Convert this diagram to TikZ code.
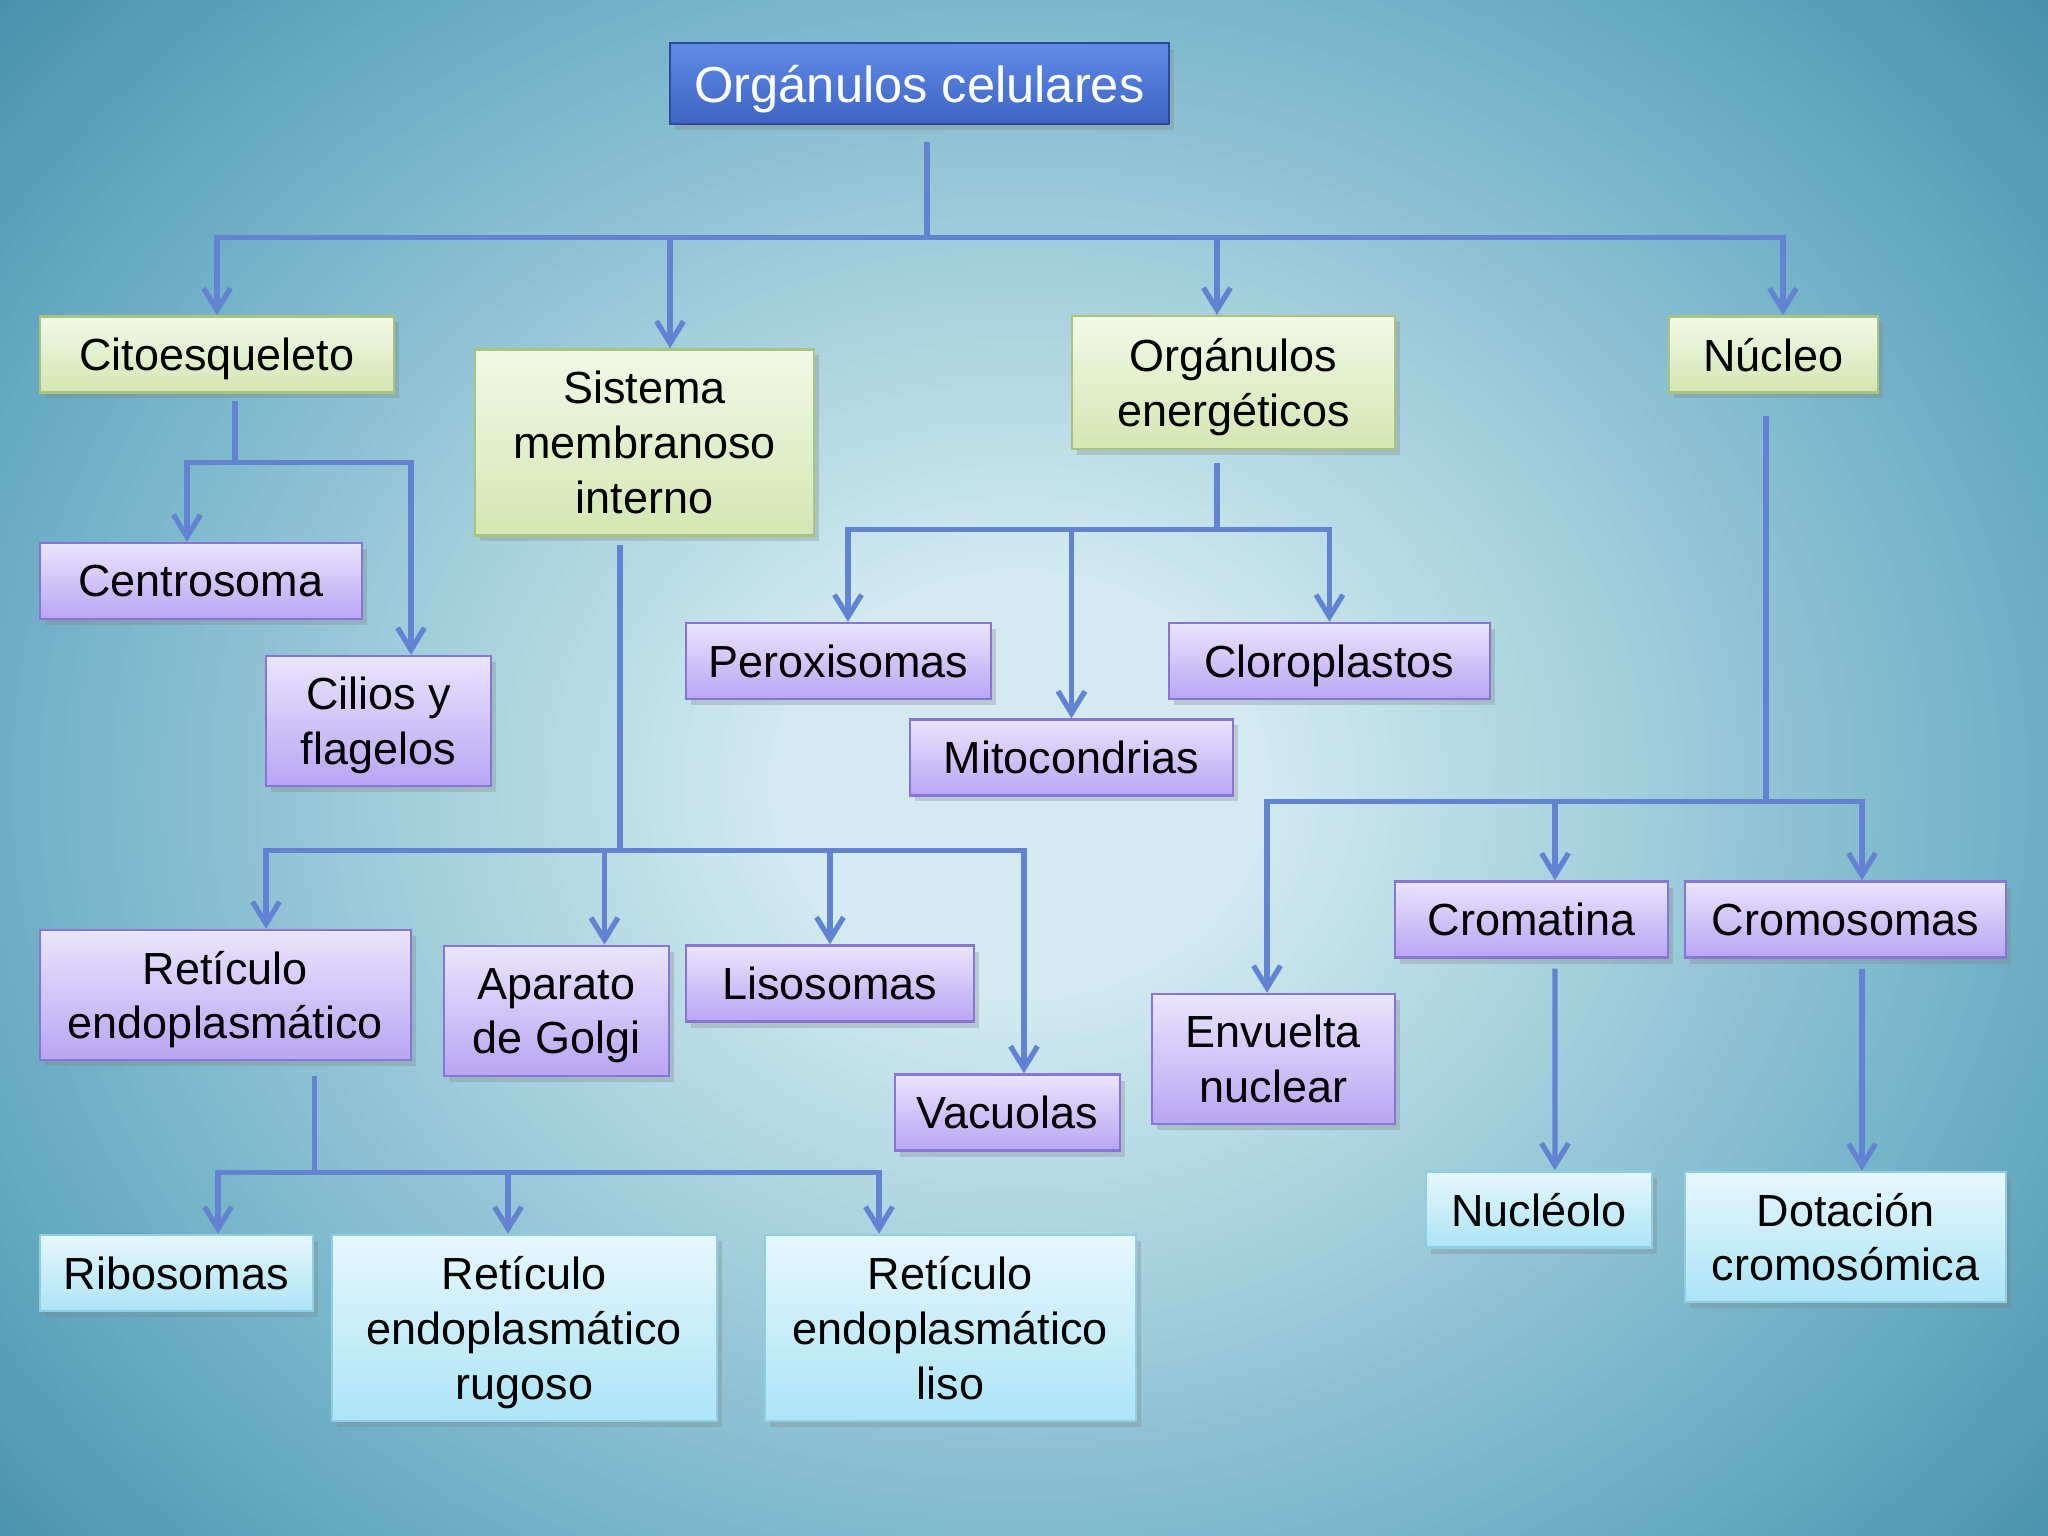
\documentclass[tikz,border=0pt]{standalone}
\usepackage{fontspec}
\setmainfont{Liberation Sans}
\usetikzlibrary{arrows.meta,shadows}
\usepackage{xcolor}
\definecolor{bgin}{HTML}{D2EAF0}
\definecolor{bgmid}{HTML}{74B3C8}
\definecolor{bgout}{HTML}{4690AC}
\definecolor{wirec}{HTML}{6282D2}
\definecolor{titletop}{HTML}{5F8BE6}
\definecolor{titlebot}{HTML}{3E64C4}
\definecolor{titleline}{HTML}{2C4A96}
\definecolor{greentop}{HTML}{F2F8E6}
\definecolor{greenbot}{HTML}{D4E6B3}
\definecolor{greenline}{HTML}{A9C27E}
\definecolor{violettop}{HTML}{EAE5FC}
\definecolor{violetbot}{HTML}{B8A5F4}
\definecolor{violetline}{HTML}{8874D4}
\definecolor{cyantop}{HTML}{E6F7FD}
\definecolor{cyanbot}{HTML}{ACE4F6}
\definecolor{cyanline}{HTML}{8FCDE4}

\begin{document}
\begin{tikzpicture}[
      font=\fontsize{12.8}{15.6}\selectfont,
      box/.style={inner sep=0pt,align=center,line width=0.7pt,text depth=0pt,
                  drop shadow={shadow xshift=0.5mm,shadow yshift=-0.6mm,opacity=0.3}},
      tbox/.style={box,top color=titletop,bottom color=titlebot,draw=titleline,text=white,
                   font=\fontsize{14.4}{17}\selectfont},
      gbox/.style={box,top color=greentop,bottom color=greenbot,draw=greenline},
      vbox/.style={box,top color=violettop,bottom color=violetbot,draw=violetline},
      cbox/.style={box,top color=cyantop,bottom color=cyanbot,draw=cyanline},
      h1/.style={minimum height=7.6mm},
      h2/.style={minimum height=13mm},
      h3/.style={minimum height=18.6mm},
      link/.style={line width=1.5pt,wirec},
      arr/.style={link,-{Straight Barb[length=2.2mm,width=2.7mm]}}]

    % background
    \useasboundingbox (0,0) rectangle (20.48,-15.36);
    \begin{scope}
      \clip (0,0) rectangle (20.48,-15.36);
      \fill[bgout] (0,0) rectangle (20.48,-15.36);
      \foreach \k in {0,...,30}{
        \pgfmathtruncatemacro\p{100*\k/30}
        \pgfmathsetmacro\r{1-0.3*\k/30}
        \fill[bgmid!\p!bgout] (10.2,-7.85) ellipse ({14.0*\r} and {12.0*\r});
      }
      \foreach \k in {1,...,60}{
        \pgfmathtruncatemacro\p{100*\k/60}
        \pgfmathsetmacro\r{0.7-0.52*\k/60}
        \fill[bgin!\p!bgmid] (10.2,-7.85) ellipse ({14.0*\r} and {12.0*\r});
      }
    \end{scope}

    % boxes
    \node[tbox,minimum width=4.99cm,minimum height=8.1mm] (org) at (9.195,-0.835) {Orgánulos celulares};

    \node[gbox,h1,minimum width=3.54cm] (cito) at (2.17,-3.545) {Citoesqueleto};
    \node[gbox,h3,minimum width=3.39cm] (sis) at (6.445,-4.425) {Sistema\\membranoso\\interno};
    \node[gbox,minimum height=13.3mm,minimum width=3.23cm] (oen) at (12.335,-3.825) {Orgánulos\\energéticos};
    \node[gbox,h1,minimum width=2.09cm] (nuc) at (17.735,-3.545) {Núcleo};

    \node[vbox,h1,minimum width=3.22cm] (cent) at (2.01,-5.81) {Centrosoma};
    \node[vbox,h2,minimum width=2.25cm] (cil) at (3.785,-7.21) {Cilios y\\flagelos};

    \node[vbox,h2,minimum width=3.71cm] (re) at (2.255,-9.95) {Retículo\\endoplasmático};
    \node[vbox,h2,minimum width=2.25cm] (golgi) at (5.565,-10.11) {Aparato\\de Golgi};
    \node[vbox,h1,minimum width=2.88cm] (lis) at (8.30,-9.835) {Lisosomas};
    \node[vbox,h1,minimum width=2.25cm] (vac) at (10.075,-11.125) {Vacuolas};

    \node[cbox,h1,minimum width=2.73cm] (ribo) at (1.765,-12.73) {Ribosomas};
    \node[cbox,h3,minimum width=3.85cm] (rer) at (5.245,-13.28) {Retículo\\endoplasmático\\rugoso};
    \node[cbox,h3,minimum width=3.71cm] (rel) at (9.505,-13.28) {Retículo\\endoplasmático\\liso};

    \node[vbox,h1,minimum width=3.05cm] (perox) at (8.385,-6.61) {Peroxisomas};
    \node[vbox,h1,minimum width=3.23cm] (mito) at (10.715,-7.575) {Mitocondrias};
    \node[vbox,h1,minimum width=3.21cm] (cloro) at (13.295,-6.61) {Cloroplastos};

    \node[vbox,h2,minimum width=2.43cm] (env) at (12.735,-10.59) {Envuelta\\nuclear};
    \node[vbox,h1,minimum width=2.73cm] (crom) at (15.315,-9.195) {Cromatina};
    \node[vbox,h1,minimum width=3.21cm] (cromo) at (18.455,-9.195) {Cromosomas};
    \node[cbox,h1,minimum width=2.26cm] (nucl) at (15.39,-12.095) {Nucléolo};
    \node[cbox,h2,minimum width=3.21cm] (dot) at (18.455,-12.37) {Dotación\\cromosómica};

    % top level
    \draw[link] ([xshift=.75mm,yshift=-1.7mm]org.south) -- ++(0,-0.95) coordinate (tj);
    \draw[arr] (tj) -| (cito.north);
    \draw[arr] (tj) -| ([xshift=2.55mm]sis.north);
    \draw[arr] (tj) -| ([xshift=-1.65mm]oen.north);
    \draw[arr] (tj) -| ([xshift=.95mm]nuc.north);

    % citoesqueleto
    \draw[link] ([xshift=1.8mm,yshift=-.7mm]cito.south) -- ++(0,-0.62) coordinate (cj);
    \draw[arr] (cj) -| ([xshift=-1.4mm]cent.north);
    \draw[arr] (cj) -| ([xshift=3.25mm]cil.north);

    % sistema membranoso
    \draw[link] ([xshift=-2.45mm,yshift=-.8mm]sis.south) -- ++(0,-3.06) coordinate (sj);
    \draw[arr] (sj) -| ([xshift=4.05mm]re.north);
    \draw[arr] (sj) -| ([xshift=4.8mm]golgi.north);
    \draw[arr] (sj) -| (lis.north);
    \draw[arr] (sj) -| ([xshift=1.65mm]vac.north);

    % reticulo
    \draw[link] ([xshift=8.9mm,yshift=-1.5mm]re.south) -- ++(0,-0.96) coordinate (rj);
    \draw[arr] (rj) -| ([xshift=4.15mm]ribo.north);
    \draw[arr] (rj) -| ([xshift=-1.65mm]rer.north);
    \draw[arr] (rj) -| ([xshift=-7.15mm]rel.north);

    % energeticos
    \draw[link] ([xshift=-1.65mm,yshift=-1.3mm]oen.south) -- ++(0,-0.66) coordinate (ej);
    \draw[arr] (ej) -| ([xshift=.95mm]perox.north);
    \draw[arr] (ej) -| (mito.north);
    \draw[arr] (ej) -| (cloro.north);

    % nucleo
    \draw[link] ([xshift=-.75mm,yshift=-2.2mm]nuc.south) -- ++(0,-3.86) coordinate (nj);
    \draw[arr] (nj) -| ([xshift=-.65mm]env.north);
    \draw[arr] (nj) -| ([xshift=2.35mm]crom.north);
    \draw[arr] (nj) -| ([xshift=1.65mm]cromo.north);
    \draw[arr] ([xshift=2.35mm,yshift=-1mm]crom.south) -- ([xshift=1.6mm]nucl.north);
    \draw[arr] ([xshift=1.65mm,yshift=-1mm]cromo.south) -- ([xshift=1.65mm]dot.north);
  \end{tikzpicture}
\end{document}
